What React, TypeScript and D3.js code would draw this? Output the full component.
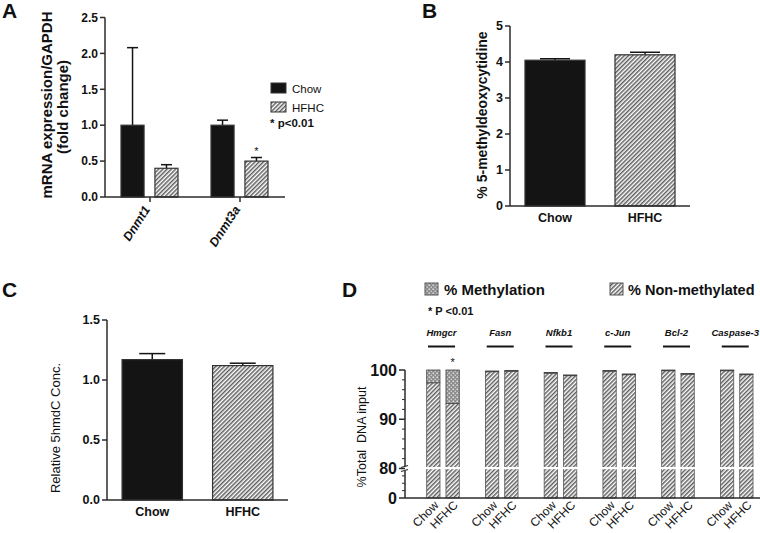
import React from 'react';
import * as d3 from 'd3';

// panel A: mRNA
const genesA = ['Dnmt1', 'Dnmt3a'];
const diets = ['Chow', 'HFHC'];
const chowA = [1.0, 1.0];
const chowErrA = [1.08, 0.07];
const hfhcA = [0.4, 0.5];
const hfhcErrA = [0.05, 0.05];
const ticksA = [0, 0.5, 1, 1.5, 2, 2.5];

// panel B: 5-methyldeoxycytidine
const meansB = [4.05, 4.2];
const errB = [0.04, 0.07];
const ticksB = [0, 1, 2, 3, 4, 5];

// panel C: 5hmdC
const meansC = [1.17, 1.12];
const errC = [0.05, 0.02];
const ticksC = [0, 0.5, 1, 1.5];

// panel D: methylation per gene
const genesD = ['Hmgcr', 'Fasn', 'Nfkb1', 'c-Jun', 'Bcl-2', 'Caspase-3'];
const nonMethChow = [97.4, 99.65, 99.35, 99.75, 99.85, 99.85];
const methChow = [2.6, 0.15, 0.15, 0.15, 0.15, 0.15];
const nonMethHfhc = [93.2, 99.75, 98.85, 99.05, 99.15, 99.05];
const methHfhc = [6.8, 0.15, 0.15, 0.15, 0.15, 0.15];
const majorTicksD = [0, 80, 90, 100];
const minorTicksD = [20, 40, 60, 82, 84, 86, 88, 92, 94, 96, 98];

const FONT = "'Liberation Sans', Arial, Helvetica, sans-serif";
const AX = '#2b2b2b';
const BLACK = '#141414';

const YAxis = ({ x, scale, ticks, fmt, size }) => {
  const [lo, hi] = d3.extent(ticks);
  return (
    <g>
      <line x1={x} x2={x} y1={scale(lo)} y2={scale(hi)} stroke={AX} strokeWidth={1.5} />
      {ticks.map(t => (
        <g key={t}>
          <line x1={x - 5} x2={x} y1={scale(t)} y2={scale(t)} stroke={AX} strokeWidth={1.5} />
          <text x={x - 7} y={scale(t)} dy="0.35em" textAnchor="end" fontWeight="bold" fontSize={size}>
            {fmt(t)}
          </text>
        </g>
      ))}
    </g>
  );
};

const ErrBar = ({ cx, y0, y1, cap }) => (
  <g stroke={BLACK} strokeWidth={1.5}>
    <line x1={cx} x2={cx} y1={y0} y2={y1} />
    <line x1={cx - cap / 2} x2={cx + cap / 2} y1={y1} y2={y1} />
  </g>
);

const TwoBarPanel = ({ left, right, bottom, top, domainMax, means, errs, ticks, fmt, cap }) => {
  const y = d3.scaleLinear().domain([0, domainMax]).range([bottom, top]);
  const x = d3.scalePoint().domain(diets).range([left, right]).padding(0.5);
  const bw = x.step() * 0.667;
  return (
    <g>
      {diets.map((d, i) => (
        <g key={d}>
          <ErrBar cx={x(d)} y0={y(means[i])} y1={y(means[i] + errs[i])} cap={cap} />
          <rect x={x(d) - bw / 2} y={y(means[i])} width={bw} height={bottom - y(means[i])}
            fill={i === 0 ? BLACK : 'url(#hatch)'} stroke="#333" strokeWidth={1.2} />
          <text x={x(d)} y={bottom + 16} textAnchor="middle" fontWeight="bold" fontSize={12.5}>{d}</text>
        </g>
      ))}
      <YAxis x={left} scale={y} ticks={ticks} fmt={fmt} size={12.5} />
      <line x1={left} x2={right} y1={bottom} y2={bottom} stroke={AX} strokeWidth={1.5} />
    </g>
  );
};

const PanelA = () => {
  const y = d3.scaleLinear().domain([0, 2.5]).range([197, 17.5]);
  const x = d3.scaleBand().domain(genesA).range([105, 285]);
  const inner = d3.scaleBand().domain(diets).range([-29, 28]).paddingInner(0.32);
  const series = [
    { key: 'Chow', vals: chowA, errs: chowErrA, fill: BLACK },
    { key: 'HFHC', vals: hfhcA, errs: hfhcErrA, fill: 'url(#hatch)' },
  ];
  return (
    <g>
      {genesA.map((g, gi) => {
        const cx = x(g) + x.bandwidth() / 2;
        return (
          <g key={g}>
            {series.map(s => {
              const bx = cx + inner(s.key);
              const v = s.vals[gi];
              return (
                <g key={s.key}>
                  <ErrBar cx={bx + inner.bandwidth() / 2} y0={y(v)} y1={y(v + s.errs[gi])} cap={11} />
                  <rect x={bx} y={y(v)} width={inner.bandwidth()} height={197 - y(v)}
                    fill={s.fill} stroke="#333" strokeWidth={1.2} />
                </g>
              );
            })}
            <line x1={cx} x2={cx} y1={197} y2={202} stroke={AX} strokeWidth={1.5} />
            <text transform={`translate(${cx - 3},${207}) rotate(-57)`} textAnchor="end" dy="0.35em"
              fontWeight="bold" fontStyle="italic" fontSize={12.5}>{g}</text>
          </g>
        );
      })}
      <text x={x('Dnmt3a') + x.bandwidth() / 2 + inner('HFHC') + inner.bandwidth() / 2}
        y={y(hfhcA[1] + hfhcErrA[1]) - 3} textAnchor="middle" fontSize={11}>*</text>
      <YAxis x={105} scale={y} ticks={ticksA} fmt={d3.format('.1f')} size={12} />
      <line x1={105} x2={285} y1={197} y2={197} stroke={AX} strokeWidth={1.5} />
      <text transform="translate(47,105) rotate(-90)" textAnchor="middle" dy="0.35em" fontWeight="bold" fontSize={15}>
        mRNA expression/GAPDH
      </text>
      <text transform="translate(63,107) rotate(-90)" textAnchor="middle" dy="0.35em" fontWeight="bold" fontSize={15}>
        (fold change)
      </text>
      <rect x={271} y={83} width={15} height={10} fill={BLACK} stroke="#333" />
      <text x={292} y={92.5} fontSize={11.5}>Chow</text>
      <rect x={271} y={102} width={15} height={10} fill="url(#hatch)" stroke="#333" />
      <text x={292} y={111.5} fontSize={11.5}>HFHC</text>
      <text x={270} y={127} fontWeight="bold" fontSize={11.5}>* p&lt;0.01</text>
    </g>
  );
};

const PanelD = () => {
  const y = d3.scaleLinear().domain([0, 80, 100]).range([498, 468.5, 370]);
  const xg = d3.scaleBand().domain(genesD).range([413.6, 766.1]);
  const inner = d3.scaleBand().domain(diets).range([-16.3, 16.3]).paddingInner(0.31);
  const series = [
    { key: 'Chow', non: nonMethChow, meth: methChow },
    { key: 'HFHC', non: nonMethHfhc, meth: methHfhc },
  ];
  const axX = 405;
  return (
    <g>
      {genesD.map((g, gi) => {
        const cx = xg(g) + xg.bandwidth() / 2;
        return (
          <g key={g}>
            <text x={cx - 1.5} y={336} textAnchor="middle" fontWeight="bold" fontStyle="italic" fontSize={9.5}>{g}</text>
            <line x1={cx - 15} x2={cx + 12} y1={346.5} y2={346.5} stroke={BLACK} strokeWidth={2} />
            {series.map(s => {
              const bx = cx + inner(s.key);
              const w = inner.bandwidth();
              const top = s.non[gi] + s.meth[gi];
              return (
                <g key={s.key}>
                  <rect x={bx} y={y(s.non[gi])} width={w} height={498 - y(s.non[gi])}
                    fill="url(#hatch)" stroke="#555" strokeWidth={0.8} />
                  <rect x={bx} y={y(top)} width={w} height={y(s.non[gi]) - y(top)}
                    fill="url(#dots)" stroke="#444" strokeWidth={0.8} />
                  <text transform={`translate(${bx + w / 2 + 3},${503}) rotate(-45)`} textAnchor="end" dy="0.35em"
                    fontSize={12}>{s.key}</text>
                </g>
              );
            })}
          </g>
        );
      })}
      {/* break band across bars */}
      <rect x={axX + 2} y={467} width={360} height={2.2} fill="#fff" />
      <text x={xg('Hmgcr') + xg.bandwidth() / 2 + inner('HFHC') + inner.bandwidth() / 2} y={366}
        textAnchor="middle" fontSize={11}>*</text>
      {/* axis with break */}
      <line x1={axX} x2={axX} y1={y(100)} y2={466.5} stroke={AX} strokeWidth={1.5} />
      <line x1={axX} x2={axX} y1={471} y2={498} stroke={AX} strokeWidth={1.5} />
      <line x1={axX - 4} x2={axX + 3} y1={467.5} y2={465.5} stroke={AX} strokeWidth={1.2} />
      <line x1={axX - 4} x2={axX + 3} y1={471.5} y2={469.5} stroke={AX} strokeWidth={1.2} />
      {majorTicksD.map(t => (
        <g key={t}>
          <line x1={axX - 6} x2={axX} y1={y(t)} y2={y(t)} stroke={AX} strokeWidth={1.5} />
          <text x={axX - 8} y={y(t)} dy="0.36em" textAnchor="end" fontWeight="bold" fontSize={16}>{t}</text>
        </g>
      ))}
      {minorTicksD.map(t => (
        <line key={t} x1={axX - 3} x2={axX} y1={y(t)} y2={y(t)} stroke={AX} strokeWidth={1} />
      ))}
      <line x1={axX} x2={760} y1={498} y2={498} stroke={AX} strokeWidth={1.5} />
      <text transform="translate(362,437) rotate(-90)" textAnchor="middle" dy="0.35em" fontSize={12.5}
        style={{ whiteSpace: 'pre' }}>{'%Total  DNA input'}</text>
      <rect x={425} y={283} width={13} height={12} fill="url(#dots)" stroke="#555" />
      <text x={444} y={294.5} fontWeight="bold" fontSize={15}>% Methylation</text>
      <rect x={610} y={283} width={13} height={12} fill="url(#hatch)" stroke="#555" />
      <text x={628} y={294.5} fontWeight="bold" fontSize={14.5}>% Non-methylated</text>
      <text x={428} y={315} fontWeight="bold" fontSize={11}>* P &lt;0.01</text>
    </g>
  );
};

export default function App() {
  return (
    <svg width={760} height={533} style={{ position: 'absolute', left: 0, top: 0, background: '#fff' }}
      fontFamily={FONT} fill="#111">
      <defs>
        <pattern id="hatch" width={3} height={3} patternUnits="userSpaceOnUse" patternTransform="rotate(45)">
          <rect width={3} height={3} fill="#fff" />
          <line x1={0.75} x2={0.75} y1={0} y2={3} stroke="#5e5e5e" strokeWidth={1.5} />
        </pattern>
        <pattern id="dots" width={4} height={4} patternUnits="userSpaceOnUse">
          <rect width={4} height={4} fill="#8e8e8e" />
          <rect x={0.5} y={0.5} width={1.5} height={1.5} fill="#e0e0e0" />
          <rect x={2.5} y={2.5} width={1.5} height={1.5} fill="#c8c8c8" />
        </pattern>
      </defs>
      <rect width={760} height={533} fill="#fff" />
      <text x={2} y={18} fontWeight="bold" fontSize={21}>A</text>
      <text x={422} y={18} fontWeight="bold" fontSize={21}>B</text>
      <text x={2} y={297} fontWeight="bold" fontSize={21}>C</text>
      <text x={342} y={297} fontWeight="bold" fontSize={21}>D</text>
      <PanelA />
      <TwoBarPanel left={510} right={690} bottom={206} top={26} domainMax={5} means={meansB} errs={errB}
        ticks={ticksB} fmt={d3.format('d')} cap={30} />
      <text transform="translate(482,115) rotate(-90)" textAnchor="middle" dy="0.35em" fontWeight="bold" fontSize={14}>
        % 5-methyldeoxycytidine
      </text>
      <TwoBarPanel left={107} right={288} bottom={500} top={320} domainMax={1.5} means={meansC} errs={errC}
        ticks={ticksC} fmt={d3.format('.1f')} cap={26} />
      <text transform="translate(55,428) rotate(-90)" textAnchor="middle" dy="0.35em" fontSize={13}>
        Relative 5hmdC Conc.
      </text>
      <PanelD />
    </svg>
  );
}
